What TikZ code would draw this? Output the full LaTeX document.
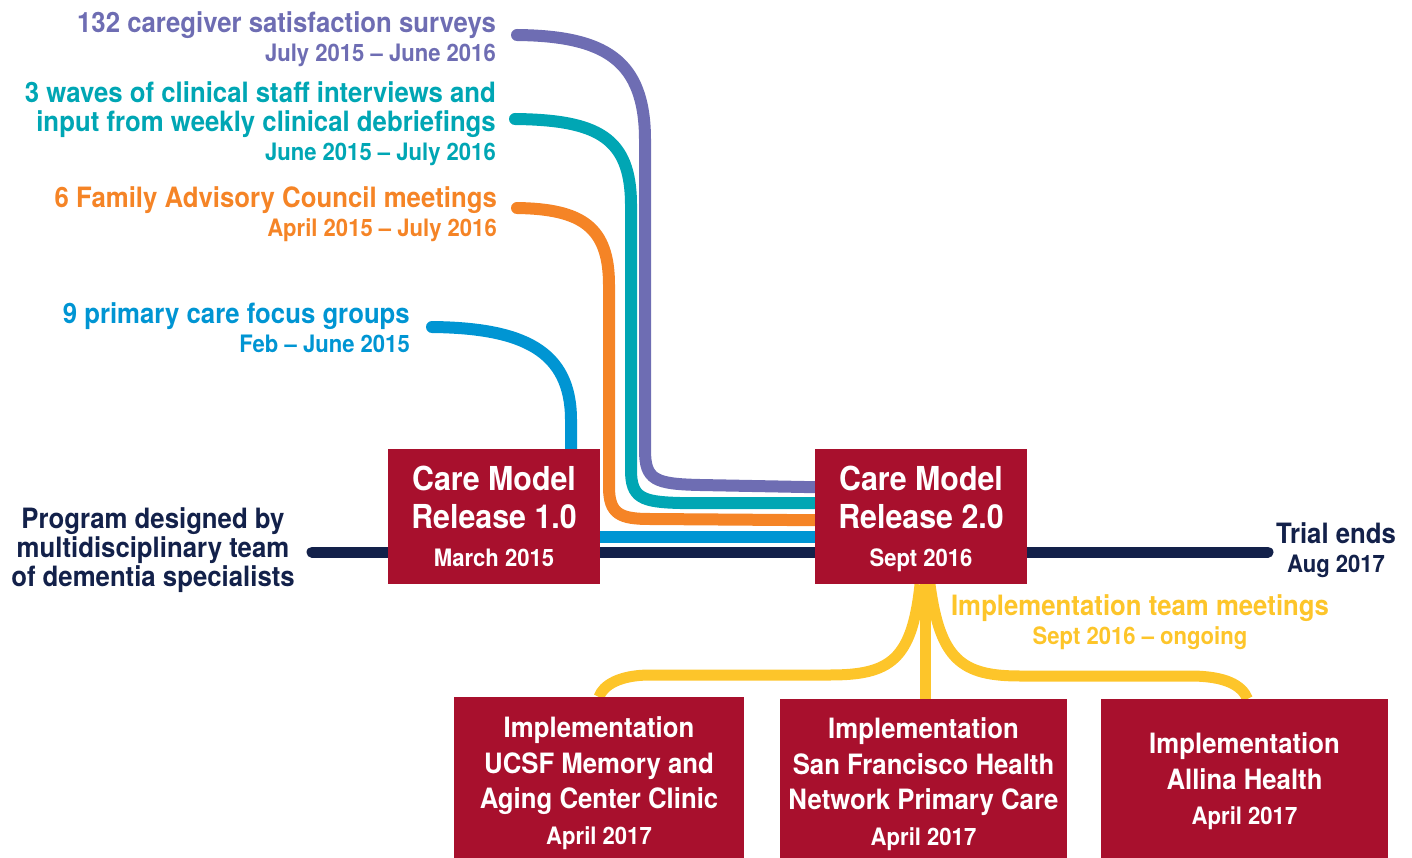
\documentclass[tikz,border=0pt]{standalone}
\usepackage{fontspec}
\setmainfont{TeX Gyre Heros}[FakeStretch=0.92]
\usetikzlibrary{backgrounds}

\definecolor{surveypurple}{HTML}{6E6DB3}
\definecolor{staffteal}{HTML}{00A6B4}
\definecolor{councilorange}{HTML}{F58426}
\definecolor{focusblue}{HTML}{0095D3}
\definecolor{timenavy}{HTML}{13214A}
\definecolor{releasered}{HTML}{A8102D}
\definecolor{teamyellow}{HTML}{FDC52A}

\newcommand{\datefont}{\fontsize{24}{24}\selectfont}

\tikzset{
  release/.style = {fill = releasered, text = white, align = center, anchor = north,
    inner sep = 0pt, minimum width = 212pt, minimum height = 135pt,
    font = \bfseries\fontsize{33}{38}\selectfont},
  impl/.style = {fill = releasered, text = white, align = center, anchor = north,
    inner sep = 0pt, font = \bfseries\fontsize{28}{35.5}\selectfont},
  inputtext/.style = {align = right, anchor = north east, inner sep = 0pt,
    font = \bfseries\fontsize{28}{29}\selectfont},
  timetext/.style = {align = center, anchor = north, inner sep = 0pt, text = timenavy,
    font = \bfseries\fontsize{28}{29}\selectfont},
  strand/.style = {line width = 12pt, line cap = round},
  timeline/.style = {line width = 11pt, line cap = round, draw = timenavy},
  teamline/.style = {line width = 11pt, draw = teamyellow}
}

\begin{document}
\begin{tikzpicture}[x = 1pt, y = -1pt]
    \useasboundingbox (0, 0) rectangle (1412, 858);

    % Release boxes on the timeline.
    \node[release] (rel1) at (494, 449) {Care Model\\Release 1.0\\{\datefont March 2015}};
    \node[release, text depth = 0pt] (rel2) at (921, 449) {Care Model\\Release 2.0\\{\datefont Sept 2016}};

    % Implementation sites.
    \node[impl, minimum width = 290pt, minimum height = 172pt] (implA) at (599, 697)
        {Implementation\\UCSF Memory and\\Aging Center Clinic\\{\datefont April 2017}};
    \node[impl, minimum width = 287pt, minimum height = 170pt] (implB) at (923.5, 699)
        {Implementation\\San Francisco Health\\Network Primary Care\\{\datefont April 2017}};
    \node[impl, minimum width = 287pt, minimum height = 164pt] (implC) at (1244.5, 699)
        {Implementation\\Allina Health\\{\datefont April 2017}};

    % Inputs feeding the releases.
    \node[inputtext, text = surveypurple] (surveys) at (496, 11.6)
        {132 caregiver satisfaction surveys\\{\datefont July 2015 – June 2016}};
    \node[inputtext, text = staffteal] (staff) at (496, 81.6)
        {3 waves of clinical staff interviews and\\input from weekly clinical debriefings\\{\datefont June 2015 – July 2016}};
    \node[inputtext, text = councilorange] (council) at (497, 186.6)
        {6 Family Advisory Council meetings\\{\datefont April 2015 – July 2016}};
    \node[inputtext, text = focusblue] (focus) at (410, 302.6)
        {9 primary care focus groups\\{\datefont Feb – June 2015}};

    % Timeline ends and team meetings.
    \node[timetext] (design) at (153, 507.6)
        {Program designed by\\multidisciplinary team\\of dementia specialists};
    \node[timetext] (trial) at (1336, 522.6)
        {Trial ends\\{\datefont Aug 2017}};
    \node[inputtext, align = center, anchor = north, text = teamyellow] (meetings) at (1140, 594.6)
        {Implementation team meetings\\{\datefont Sept 2016 – ongoing}};

    % Free ends of the strands.
    \coordinate (surveyend) at (517, 35);
    \coordinate (staffend) at (515, 119);
    \coordinate (councilend) at (517, 208);
    \coordinate (focusend) at (432, 327);
    \coordinate (designend) at (312, 552);
    \coordinate (trialend) at (1268, 552);

    \begin{scope}[on background layer]
        % The timeline.
        \draw[timeline] (designend) to (trialend);

        % Strands into release 2.0.
        \draw[strand, draw = surveypurple] (surveyend) .. controls (605, 36) and (645, 60) .. (645, 140)
            -- (645, 450) .. controls (645, 480) and (655, 484) .. (700, 485) -- ([yshift = 29.5pt]rel2.west);
        \draw[strand, draw = staffteal] (staffend) .. controls (597, 120) and (631, 137) .. (631, 205)
            -- (631, 470) .. controls (631, 498) and (642, 502) .. (680, 503) -- ([yshift = 13.5pt]rel2.west);
        \draw[strand, draw = councilorange] (councilend) .. controls (582, 209) and (609, 227) .. (609, 285)
            -- (609, 487) .. controls (609, 514) and (620, 519) .. (650, 519) -- ([yshift = -3.5pt]rel2.west);

        % Focus groups into release 1.0, then on to release 2.0.
        \draw[strand, draw = focusblue] (focusend) .. controls (522, 328) and (571, 350) .. (571, 420)
            -- ([xshift = 77pt]rel1.north);
        \draw[strand, draw = focusblue, line cap = butt] ([yshift = -20.5pt]rel1.east) -- ([yshift = -20.5pt]rel2.west);

        % Release 2.0 out to the sites.
        \draw[teamline] ([xshift = 4pt]rel2.south) -- ([xshift = 4pt]rel2.south |- implB.north);
        \draw[teamline] ([xshift = -1pt]rel2.south) .. controls (912, 660) and (890, 675) .. (830, 675)
            -- (650, 675) .. controls (620, 675) and (603, 685) .. (implA.north);
        \draw[teamline] ([xshift = 9pt]rel2.south) .. controls (940, 660) and (962, 676) .. (1020, 676)
            -- (1190, 676) .. controls (1225, 676) and (1242, 685) .. ([xshift = 3pt]implC.north);
    \end{scope}
\end{tikzpicture}
\end{document}
